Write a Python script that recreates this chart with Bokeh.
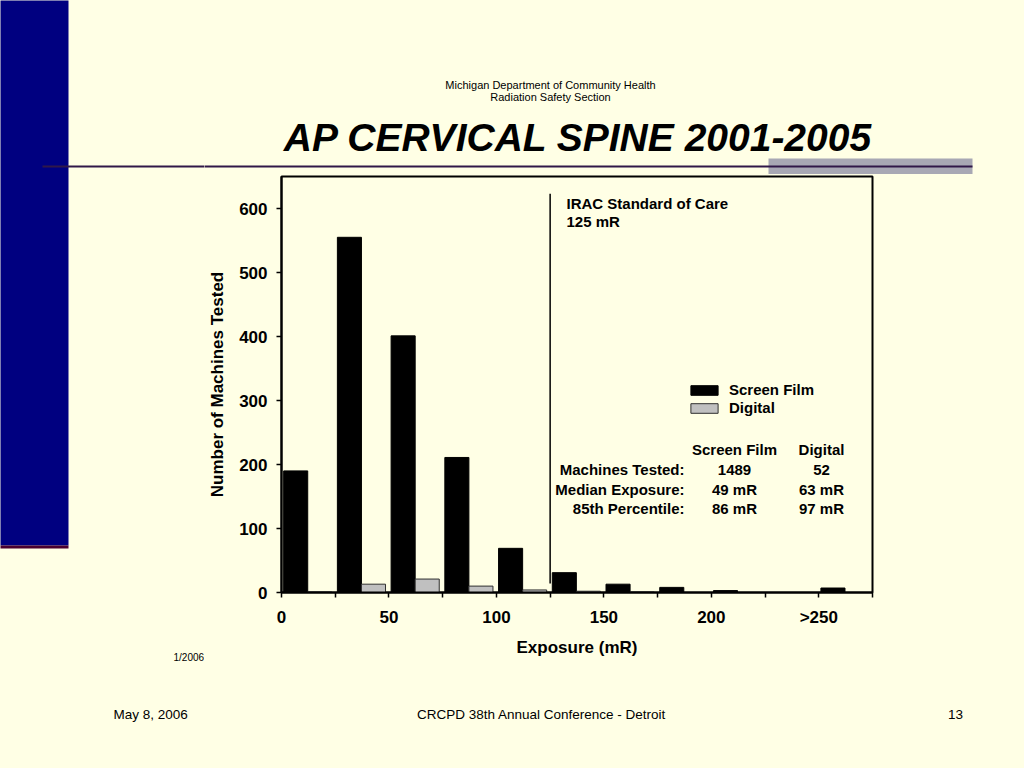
from bokeh.plotting import figure
from bokeh.layouts import column, row
from bokeh.models import Range1d, FixedTicker, Label, Legend, LegendItem
from bokeh.embed import file_html
from bokeh.resources import INLINE

# ---------------- data ----------------
bin_starts = [0, 25, 50, 75, 100, 125, 150, 175, 200, 225, 250]
screen_film = [190, 555, 401, 211, 69, 31, 13, 8, 3, 0, 7]
digital = [1, 13, 21, 10, 4, 2, 1, 0, 0, 0, 0]
x_ticks = [0, 25, 50, 75, 100, 125, 150, 175, 200, 225, 250, 275]
x_tick_labels = ["0", "", "50", "", "100", "", "150", "", "200", "", ">250", ""]
y_ticks = [0, 100, 200, 300, 400, 500, 600]
irac_standard = 125
irac_line_bottom = 14
irac_line_top = 623
table_cols = ["Screen Film", "Digital"]
table_rows = ["Machines Tested:", "Median Exposure:", "85th Percentile:"]
table_film = ["1489", "49 mR", "86 mR"]
table_digital = ["52", "63 mR", "97 mR"]

BG = "#FFFFE5"
BLUE = "#000080"
FONT = "Liberation Sans"

PAGE_W, PAGE_H = 1024, 768
HEAD_H = 174          # header band: page y 0..174 (right of the strip)
MID_B = 680           # bottom of strip / chart band
STRIP_W = 204         # left decoration strip width
FL, FT, FW, FH = 281, 176, 591, 416  # chart frame on page (px)
X_MAX, Y_MAX = 275, 650


def deco_fig(x0, x1, y0, y1):
    """Decoration figure whose data coordinates are page pixels."""
    f = figure(width=x1 - x0, height=y1 - y0, output_backend="svg", toolbar_location=None,
               title=None, x_range=Range1d(x0, x1), y_range=Range1d(y1, y0),
               x_axis_type=None, y_axis_type=None, min_border=0, frame_align=False,
               background_fill_color=BG, border_fill_color=BG, outline_line_color=None)
    f.grid.visible = False
    return f


def rect(f, x0, y0, x1, y1, color):
    f.quad(left=[x0], right=[x1], top=[y0], bottom=[y1], fill_color=color, line_color=None)


def text(f, x, y, s, size, align="left", style="normal"):
    f.add_layout(Label(x=x, y=y, text=s, text_align=align, text_baseline="middle",
                       text_font=FONT, text_font_style=style, text_font_size=size,
                       text_color="black"))


# ---------------- left strip (full height) ----------------
strip = deco_fig(0, STRIP_W, 0, MID_B)
rect(strip, -10, -10, 68, 545, BLUE)
rect(strip, -10, 545, 68, 548, "#4A0030")
rect(strip, 42, 165, STRIP_W + 10, 167, "#301848")
text(strip, 173, 657, "1/2006", "10px")

# ---------------- header ----------------
head = deco_fig(STRIP_W, PAGE_W, 0, HEAD_H)
rect(head, 768, 158, 972, 178, "#A8A8B4")
rect(head, STRIP_W - 10, 165, 972, 167, "#301848")
text(head, 550, 84, "Michigan Department of Community Health", "11px", "center")
text(head, 550, 96, "Radiation Safety Section", "11px", "center")
text(head, 578, 137, "AP CERVICAL SPINE 2001-2005", "39px", "center", "bold italic")

# ---------------- chart ----------------
CW = PAGE_W - STRIP_W
CH = MID_B - HEAD_H
p = figure(width=CW, height=CH, output_backend="svg", toolbar_location=None, title=None,
           x_range=Range1d(0, X_MAX), y_range=Range1d(0, Y_MAX), frame_align=False,
           min_border_left=FL - STRIP_W, min_border_right=CW - (FL - STRIP_W) - FW,
           min_border_top=FT - HEAD_H, min_border_bottom=CH - (FT - HEAD_H) - FH,
           background_fill_color=BG, border_fill_color=BG)
p.grid.visible = False
p.outline_line_color = "black"
p.outline_line_width = 2

PX_X = FW / X_MAX
PX_Y = FH / Y_MAX
def dx(X):
    return (X - FL) / PX_X
def dy(Y):
    return (FT + FH - Y) / PX_Y

bar_w = 11.2
film_x = [b + 6.6 for b in bin_starts]
dig_x = [b + 17.8 for b in bin_starts]
r_film = p.vbar(x=film_x, top=screen_film, width=bar_w, fill_color="black", line_color="black")
r_dig = p.vbar(x=dig_x, top=digital, width=bar_w, fill_color="#C0C0C0", line_color="#303030", line_width=1)

p.segment(x0=[irac_standard], y0=[irac_line_bottom], x1=[irac_standard], y1=[irac_line_top],
          line_color="black", line_width=1.5)

for ax in (p.xaxis[0], p.yaxis[0]):
    ax.axis_line_color = "black"
    ax.axis_line_width = 2
    ax.major_tick_in = 0
    ax.major_tick_out = 5
    ax.major_tick_line_width = 1.5
    ax.minor_tick_line_color = None
    ax.major_label_text_font = FONT
    ax.major_label_text_font_style = "bold"
    ax.major_label_text_font_size = "17px"
    ax.major_label_text_color = "black"
    ax.axis_label_text_font = FONT
    ax.axis_label_text_font_style = "bold"
    ax.axis_label_text_font_size = "17px"
    ax.axis_label_text_color = "black"

p.xaxis.ticker = FixedTicker(ticks=x_ticks)
p.xaxis.major_label_overrides = {t: l for t, l in zip(x_ticks, x_tick_labels)}
p.xaxis.axis_label = "Exposure (mR)"
p.xaxis.major_label_standoff = 10
p.xaxis.axis_label_standoff = 8
p.yaxis.ticker = FixedTicker(ticks=y_ticks)
p.yaxis.axis_label = "Number of Machines Tested"
p.yaxis.major_label_standoff = 9
p.yaxis.axis_label_standoff = 9

legend = Legend(items=[LegendItem(label="Screen Film", renderers=[r_film]),
                       LegendItem(label="Digital", renderers=[r_dig])],
                location=(687 - FL, FT + FH - 416), padding=0, margin=0, spacing=1,
                glyph_width=34, glyph_height=12, label_height=12, label_standoff=8,
                label_text_font=FONT, label_text_font_style="bold", label_text_font_size="15px",
                label_text_color="black", border_line_color=None, background_fill_alpha=0)
p.add_layout(legend)


def lab(X, Y, s, size, align="left"):
    p.add_layout(Label(x=dx(X), y=dy(Y), text=s, text_align=align, text_baseline="middle",
                       text_font=FONT, text_font_style="bold", text_font_size=size,
                       text_color="black"))


lab(566, 203, "IRAC Standard of Care", "15px")
lab(566, 221, "125 mR", "15px")
lab(734, 449, table_cols[0], "15px", "center")
lab(821, 449, table_cols[1], "15px", "center")
for i, (rl, vf, vd) in enumerate(zip(table_rows, table_film, table_digital)):
    yy = 469 + i * 19.5
    lab(684, yy, rl, "15px", "right")
    lab(734, yy, vf, "15px", "center")
    lab(821, yy, vd, "15px", "center")

# ---------------- footer ----------------
foot = deco_fig(0, PAGE_W, MID_B, PAGE_H)
text(foot, 113, 714, "May 8, 2006", "13.5px")
text(foot, 541, 714, "CRCPD 38th Annual Conference - Detroit", "13.5px", "center")
text(foot, 955, 714, "13", "13.5px", "center")

layout = column(row(strip, column(head, p, spacing=0), spacing=0), foot, spacing=0)

html = file_html(layout, INLINE)
html = html.replace("</head>", "<style>body{background:%s;}</style></head>" % BG, 1)
open("out.html", "w").write(html)
